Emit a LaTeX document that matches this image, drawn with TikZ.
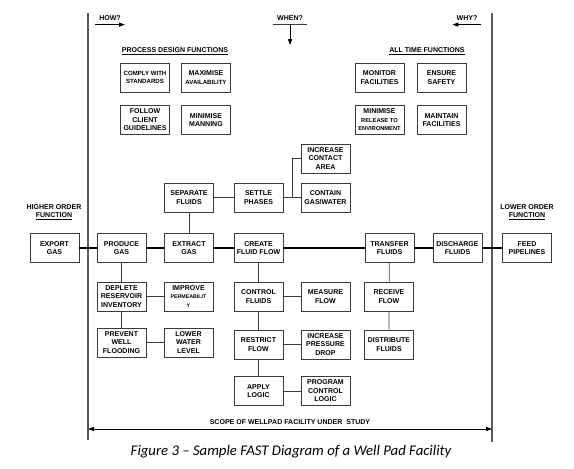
\documentclass[tikz,border=0pt]{standalone}
\usepackage{fontspec}
\setsansfont{Liberation Sans}
\newfontfamily\capfont{Carlito}
\usetikzlibrary{arrows.meta,positioning}
\definecolor{boxline}{HTML}{3A3A3A}
\definecolor{scopeline}{HTML}{5A5A5A}
\newcommand{\fnsmall}{\fontsize{5.2}{7.2}\selectfont}
\newcommand{\fntiny}{\fontsize{4.9}{6.6}\selectfont}

\begin{document}
\begin{tikzpicture}[x=0.03cm, y=-0.03cm,
    fn/.style={draw=boxline, semithick, minimum width=1.47cm, minimum height=0.87cm, inner sep=1pt, align=center, font=\sffamily\bfseries\fontsize{6}{7.2}\selectfont},
    lbl/.style={align=center, font=\sffamily\bfseries\fontsize{6}{7.2}\selectfont},
    link/.style={draw=boxline, semithick},
    main/.style={draw=black, line width=1.7pt},
    border/.style={draw=scopeline, line width=1pt},
    tip/.style={-{Triangle[length=5pt,width=3.5pt]}, semithick}
]
    \useasboundingbox (0,0) rectangle (574,469);

    % scope borders
    \coordinate (lt) at (88,13);  \coordinate (lb) at (88,440);
    \coordinate (rt) at (492,13); \coordinate (rb) at (492,442);
    \draw[border] (lt) -- (lb);
    \draw[border] (rt) -- (rb);

    % direction labels
    \node[lbl] (how) at (110,18) {HOW?};
    \draw[tip] (how.south west) -- (how.south east);
    \node[lbl] (when) at (290,18) {WHEN?};
    \coordinate (whenend) at (290,45);
    \draw[link] (when.south west) -- (when.south east);
    \draw[tip] (when.south) -- (whenend);
    \node[lbl] (why) at (467,18) {WHY?};
    \draw[tip] (why.south east) -- (why.south west);

    % all time / design functions
    \node[lbl] (pdf) at (175,51) {\underline{PROCESS DESIGN FUNCTIONS}};
    \node[fn, font=\sffamily\bfseries\fnsmall] (comply) at (145,77.5) {COMPLY WITH\\STANDARDS};
    \node[fn] (maximise) at (206,77.5) {MAXIMISE\\{\fnsmall AVAILABILITY}};
    \node[fn] (follow) at (145,120) {FOLLOW\\CLIENT\\GUIDELINES};
    \node[fn] (manning) at (206,120) {MINIMISE\\MANNING};

    \node[lbl] (atf) at (427,51) {\underline{ALL TIME FUNCTIONS}};
    \node[fn] (monitor) at (379.5,77.5) {MONITOR\\FACILITIES};
    \node[fn] (safety) at (441.5,77.5) {ENSURE\\SAFETY};
    \node[fn] (release) at (379.5,120) {MINIMISE\\{\fntiny RELEASE TO}\\{\fntiny ENVIRONMENT}};
    \node[fn] (maintain) at (441.5,120) {MAINTAIN\\FACILITIES};

    % critical path
    \node[lbl] (higher) at (54,212) {HIGHER ORDER\\\underline{FUNCTION}};
    \node[lbl] (lower) at (527,212) {LOWER ORDER\\\underline{FUNCTION}};
    \node[fn] (export) at (54.5,248) {EXPORT\\GAS};
    \node[fn] (produce) at (121.5,248) {PRODUCE\\GAS};
    \node[fn] (extract) at (189,248) {EXTRACT\\GAS};
    \node[fn] (create) at (258.5,248) {CREATE\\FLUID FLOW};
    \node[fn] (transfer) at (389.5,248) {TRANSFER\\FLUIDS};
    \node[fn] (discharge) at (457.5,248) {DISCHARGE\\FLUIDS};
    \node[fn] (feed) at (527,248) {FEED\\PIPELINES};
    \draw[main] (export) -- (produce) -- (extract) -- (create) -- (transfer) -- (discharge) -- (feed);

    % upper branch
    \node[fn] (separate) at (189,197.5) {SEPARATE\\FLUIDS};
    \node[fn] (settle) at (258.5,197.5) {SETTLE\\PHASES};
    \node[fn] (contact) at (325.5,158.5) {INCREASE\\CONTACT\\AREA};
    \node[fn] (contain) at (325.5,197.5) {CONTAIN\\GAS/WATER};
    \coordinate (br) at (292,197.5);
    \draw[link] (extract) -- (separate) -- (settle) -- (contain);
    \draw[link] (contact.west) -| (br);

    % lower branches
    \node[fn] (deplete) at (121.5,296.5) {DEPLETE\\RESERVOIR\\INVENTORY};
    \node[fn] (improve) at (188.5,296.5) {IMPROVE\\{\fontsize{4.5}{6.4}\selectfont PERMEABILIT}\\{\fontsize{4.5}{6.4}\selectfont Y}};
    \node[fn] (prevent) at (121.5,342.5) {PREVENT\\WELL\\FLOODING};
    \node[fn] (lowerwater) at (188.5,342.5) {LOWER\\WATER\\LEVEL};
    \draw[link] (produce) -- (deplete) -- (prevent);
    \draw[link] (deplete) -- (improve);
    \draw[link] (prevent) -- (lowerwater);

    \node[fn] (control) at (258.5,296.5) {CONTROL\\FLUIDS};
    \node[fn] (measure) at (325.5,296.5) {MEASURE\\FLOW};
    \node[fn] (restrict) at (258.5,344.5) {RESTRICT\\FLOW};
    \node[fn] (pressure) at (325.5,344.5) {INCREASE\\PRESSURE\\DROP};
    \node[fn] (apply) at (258.5,391) {APPLY\\LOGIC};
    \node[fn] (program) at (325.5,391) {PROGRAM\\CONTROL\\LOGIC};
    \draw[link] (create) -- (control) -- (restrict) -- (apply);
    \draw[link] (control) -- (measure);
    \draw[link] (restrict) -- (pressure);
    \draw[link] (apply) -- (program);

    \node[fn] (receive) at (389,296.5) {RECEIVE\\FLOW};
    \node[fn] (distribute) at (389,344.5) {DISTRIBUTE\\FLUIDS};
    \draw[link] (transfer) -- (receive) -- (distribute);

    % scope
    \node[lbl] (scope) at (290,422) {SCOPE OF WELLPAD FACILITY UNDER\ \ STUDY};
    \coordinate (sl) at (88,429); \coordinate (sr) at (492,429);
    \draw[{Triangle[length=5pt,width=3.5pt]}-{Triangle[length=5pt,width=3.5pt]}, semithick] (sl) -- (sr);

    % caption
    \node[font=\capfont\itshape\fontsize{12.6}{14}\selectfont] (caption) at (291,452) {Figure 3 – Sample FAST Diagram of a Well Pad Facility};
\end{tikzpicture}
\end{document}
